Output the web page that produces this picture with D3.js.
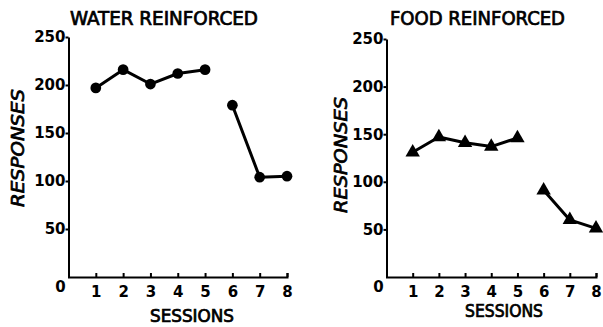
<!DOCTYPE html>
<html>
<head>
<meta charset="utf-8">
<title>Water vs Food Reinforced</title>
<script src="https://cdn.jsdelivr.net/npm/d3@7"></script>
<style>
body { margin: 0; background: #fff; }
svg { display: block; }
.axis path, .axis line { stroke: #000; stroke-width: 2px; }
.axis text { font-family: "DejaVu Sans", sans-serif; font-weight: bold; font-size: 15px; fill: #000; }
.lbl { font-family: "DejaVu Sans Condensed", "DejaVu Sans", sans-serif; fill: #000; stroke: #000; stroke-width: 0.7px; }
</style>
</head>
<body>
<div id="chart"></div>
<script>
// values
var sessions = [1, 2, 3, 4, 5, 6, 7, 8];
var phase = [1, 1, 1, 1, 1, 2, 2, 2];        // line breaks between session 5 and 6
var waterResponses = [197, 216, 201, 212, 216, 179, 104, 105];
var foodResponses = [131, 147, 141, 137, 146, 91, 60, 51];
var yTicks = [0, 50, 100, 150, 200, 250];

var svg = d3.select("#chart").append("svg")
    .attr("width", 603)
    .attr("height", 327);

function drawPanel(opts) {
    var x = d3.scaleLinear().domain([0, 8]).range([opts.left, opts.right]);
    var y = d3.scaleLinear().domain([0, 250]).range([277, opts.top]);
    var g = svg.append("g");

    // x axis, ticks pointing up
    g.append("g")
        .attr("class", "axis")
        .attr("transform", "translate(0,277)")
        .call(d3.axisBottom(x).tickValues(sessions).tickSizeInner(-4).tickSizeOuter(-4).tickPadding(9));

    // y axis
    g.append("g")
        .attr("class", "axis")
        .attr("transform", "translate(" + x(0) + ",0)")
        .call(d3.axisLeft(y).tickValues(yTicks.slice(1)).tickSizeInner(3).tickSizeOuter(0).tickPadding(0));

    // the lone "0" sits below-left of the origin
    g.append("text")
        .attr("x", x(0) - 8)
        .attr("y", y(yTicks[0]) + 15)
        .attr("text-anchor", "middle")
        .attr("font-family", "DejaVu Sans, sans-serif")
        .attr("font-weight", "bold")
        .attr("font-size", "15px")
        .text("0");

    var pts = sessions.map(function(s, i) { return {s: s, v: opts.values[i], p: phase[i]}; });
    var groups = d3.groups(pts, function(d) { return d.p; });
    var line = d3.line()
        .x(function(d) { return x(d.s); })
        .y(function(d) { return y(d.v); });

    g.selectAll(".seg")
        .data(groups)
        .enter()
        .append("path")
        .attr("class", "seg")
        .attr("d", function(d) { return line(d[1]); })
        .attr("fill", "none")
        .attr("stroke", "#000")
        .attr("stroke-width", 3)
        .attr("stroke-linejoin", "round");

    g.selectAll(".mark")
        .data(pts)
        .enter()
        .append("path")
        .attr("class", "mark")
        .attr("transform", function(d) { return "translate(" + x(d.s) + "," + y(d.v) + ")"; })
        .attr("d", d3.symbol().type(opts.symbol).size(opts.symbolSize))
        .attr("fill", "#000");

    g.append("text")
        .attr("class", "lbl")
        .attr("x", opts.titleX)
        .attr("y", 25)
        .attr("font-size", "19px")
        .attr("textLength", opts.titleW)
        .attr("lengthAdjust", "spacingAndGlyphs")
        .text(opts.title);

    g.append("text")
        .attr("class", "lbl")
        .attr("x", opts.sessX)
        .attr("y", opts.sessY)
        .attr("text-anchor", "middle")
        .attr("font-size", "17px")
        .attr("textLength", opts.sessW)
        .attr("lengthAdjust", "spacingAndGlyphs")
        .text("SESSIONS");

    g.append("text")
        .attr("class", "lbl")
        .attr("transform", "translate(" + opts.respX + "," + opts.respY + ") rotate(-90)")
        .attr("text-anchor", "middle")
        .attr("font-style", "italic")
        .attr("font-size", "18px")
        .attr("textLength", opts.respW)
        .attr("lengthAdjust", "spacingAndGlyphs")
        .text("RESPONSES");
}

drawPanel({
    left: 68.5, right: 287, top: 37,
    values: waterResponses, symbol: d3.symbolCircle, symbolSize: 90,
    title: "WATER REINFORCED", titleX: 70, titleW: 188,
    sessX: 192, sessY: 322, sessW: 84,
    respX: 24, respY: 148, respW: 118
});

drawPanel({
    left: 386.5, right: 596, top: 39,
    values: foodResponses, symbol: d3.symbolTriangle, symbolSize: 90,
    title: "FOOD REINFORCED", titleX: 390, titleW: 175,
    sessX: 504, sessY: 317, sessW: 78,
    respX: 347, respY: 155, respW: 116
});
</script>
</body>
</html>
